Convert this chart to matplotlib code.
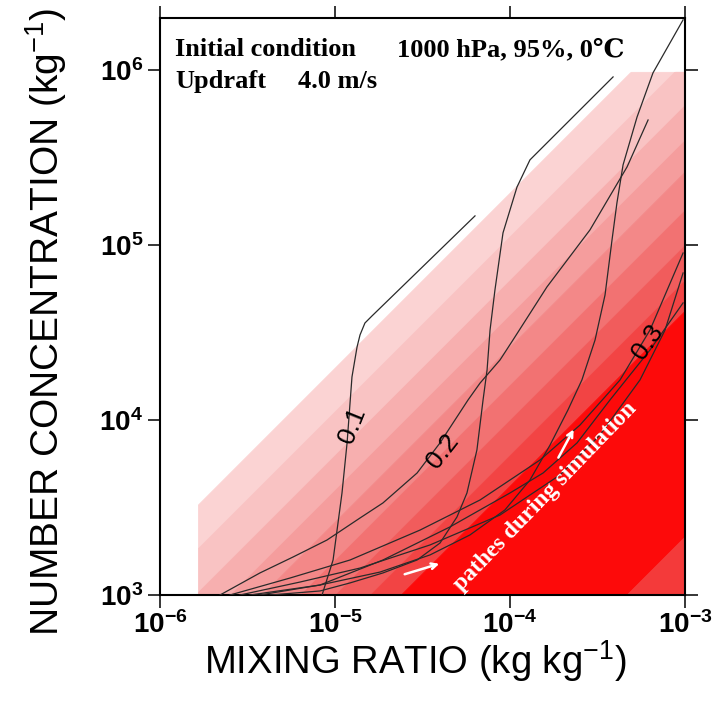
import numpy as np
import matplotlib.pyplot as plt
from matplotlib.ticker import NullLocator, LogLocator

plt.rcParams['font.family'] = ['Liberation Sans', 'DejaVu Sans']
plt.rcParams['mathtext.fontset'] = 'custom'
plt.rcParams['mathtext.rm'] = 'Liberation Sans'
plt.rcParams['mathtext.it'] = 'Liberation Sans:italic'
plt.rcParams['mathtext.bf'] = 'Liberation Sans:bold'

# shaded bands, edges given as log10(N/q), upper-left edge first
band_edges = [9.30, 9.05, 8.80, 8.60, 8.42, 8.20, 8.00, 7.80, 7.62, 6.33, 4.0]
band_colors = ['#fbd3d3', '#f9c3c3', '#f7afaf', '#f59d9d', '#f38888',
               '#f27272', '#f15c5c', '#f24444', '#fd0a0a', '#f43a3a']
q_min = 1.65e-6
n_max = 9.75e5

# simulated paths (log10 mixing ratio, log10 number concentration)
path1_q = [-5.074, -5.011, -4.960, -4.931, -4.903, -4.874, -4.857, -4.829, -4.789, -4.200]
path1_n = [3.000, 3.200, 3.583, 3.869, 4.246, 4.417, 4.486, 4.554, 4.594, 5.166]

path2_q = [-5.657, -5.429, -5.240, -5.046, -4.857, -4.726, -4.531, -4.400, -4.240,
           -4.171, -4.057, -3.983, -3.789, -3.543, -3.331, -3.211]
path2_n = [3.000, 3.126, 3.217, 3.314, 3.440, 3.526, 3.697, 3.869, 4.114,
           4.211, 4.343, 4.457, 4.760, 5.086, 5.446, 5.714]

path3_q = [-5.371, -5.086, -4.914, -4.726, -4.531, -4.400, -4.303, -4.246, -4.189,
           -4.154, -4.131, -4.114, -4.086, -4.040, -3.960, -3.886, -3.411]
path3_n = [3.000, 3.023, 3.069, 3.126, 3.200, 3.297, 3.446, 3.583, 3.829,
           4.114, 4.286, 4.514, 4.743, 5.069, 5.331, 5.486, 5.960]

path4_q = [-5.429, -5.086, -4.743, -4.457, -4.229, -4.029, -3.886, -3.771, -3.669,
           -3.589, -3.514, -3.457, -3.417, -3.389, -3.354, -3.274, -3.183, -3.011]
path4_n = [3.000, 3.057, 3.131, 3.229, 3.343, 3.486, 3.657, 3.857, 4.057,
           4.229, 4.457, 4.714, 5.029, 5.240, 5.457, 5.731, 5.983, 6.286]

path5_q = [-5.600, -5.257, -4.914, -4.514, -4.171, -3.829, -3.600, -3.371, -3.200, -3.011]
path5_n = [3.000, 3.097, 3.200, 3.371, 3.543, 3.771, 3.971, 4.229, 4.514, 4.954]

path6_q = [-5.543, -5.200, -4.857, -4.457, -4.057, -3.714, -3.486, -3.257, -3.114, -3.011]
path6_n = [3.000, 3.074, 3.154, 3.286, 3.457, 3.686, 3.914, 4.229, 4.514, 4.840]

path7_q = [-5.486, -5.086, -4.726, -4.343, -4.000, -3.811, -3.617, -3.429, -3.200, -3.011]
path7_n = [3.000, 3.057, 3.200, 3.389, 3.583, 3.697, 3.869, 4.114, 4.400, 4.669]

paths = [(path1_q, path1_n), (path2_q, path2_n), (path3_q, path3_n), (path4_q, path4_n),
         (path5_q, path5_n), (path6_q, path6_n), (path7_q, path7_n)]

# path labels: text, log10 q, log10 N, rotation
labels = [('0.1', -4.90, 3.97, 68), ('0.2', -4.383, 3.82, 52), ('0.3', -3.211, 4.446, 55)]

fig = plt.figure(figsize=(7.2, 7.09), dpi=100)
ax = fig.add_axes([160/720, 1-595/709, 525/720, 577/709])
ax.set_xscale('log')
ax.set_yscale('log')

x = np.logspace(np.log10(q_min), -3, 400)
for i, col in enumerate(band_colors):
    hi = np.minimum(x * 10**band_edges[i], n_max)
    lo = np.minimum(x * 10**band_edges[i+1], n_max)
    ax.fill_between(x, lo, hi, color=col, lw=0.6, ec=col, zorder=1)

for pq, pn in paths:
    ax.plot(10**np.array(pq), 10**np.array(pn), color='#2a2a2a', lw=0.9, zorder=3)

for txt, lq, ln, rot in labels:
    ax.text(10**lq, 10**ln, txt, fontsize=19, rotation=rot, ha='center', va='center', zorder=4)

ax.set_xlim(1e-6, 1e-3)
ax.set_ylim(1e3, 1.98e6)
ax.xaxis.set_major_locator(LogLocator(base=10, numticks=10))
ax.xaxis.set_minor_locator(NullLocator())
ax.yaxis.set_minor_locator(NullLocator())
ax.tick_params(which='major', direction='out', length=9, width=1.1, top=True, right=True,
               labelsize=20, pad=3)
for lab in ax.get_xticklabels() + ax.get_yticklabels():
    lab.set_fontweight('bold')
for s in ax.spines.values():
    s.set_linewidth(1.5)

serif = ['Liberation Serif', 'DejaVu Serif']
fig.text(175/720, 1-56/709, 'Initial condition', fontsize=19, fontweight='bold', family=serif)
fig.text(397/720, 1-56/709, '1000 hPa, 95%, 0℃', fontsize=19, fontweight='bold', family=serif)
fig.text(175/720, 1-88/709, 'Updraft', fontsize=19, fontweight='bold', family=serif)
fig.text(298/720, 1-88/709, '4.0 m/s', fontsize=19, fontweight='bold', family=serif)

ax.text(10**-3.80, 10**3.56, 'pathes during simulation', color='white', fontsize=17,
        fontweight='bold', family=serif, rotation=46, ha='center', va='center', zorder=5)
ax.annotate('', xy=(10**-4.389, 10**3.183), xytext=(10**-4.617, 10**3.114),
            arrowprops=dict(arrowstyle='->', color='white', lw=1.8), zorder=5)
ax.annotate('', xy=(10**-3.629, 10**3.96), xytext=(10**-3.731, 10**3.771),
            arrowprops=dict(arrowstyle='->', color='white', lw=1.8), zorder=5)

fig.text(46/720, 1-322/709, 'NUMBER CONCENTRATION (kg$^{-1}$)', fontsize=28,
         rotation=90, ha='center', va='center')
fig.text(415/720, 1-674/709, 'MIXING RATIO (kg kg$^{-1}$)', fontsize=27.5,
         ha='center', va='baseline')

fig.savefig('out.png', dpi=100)
